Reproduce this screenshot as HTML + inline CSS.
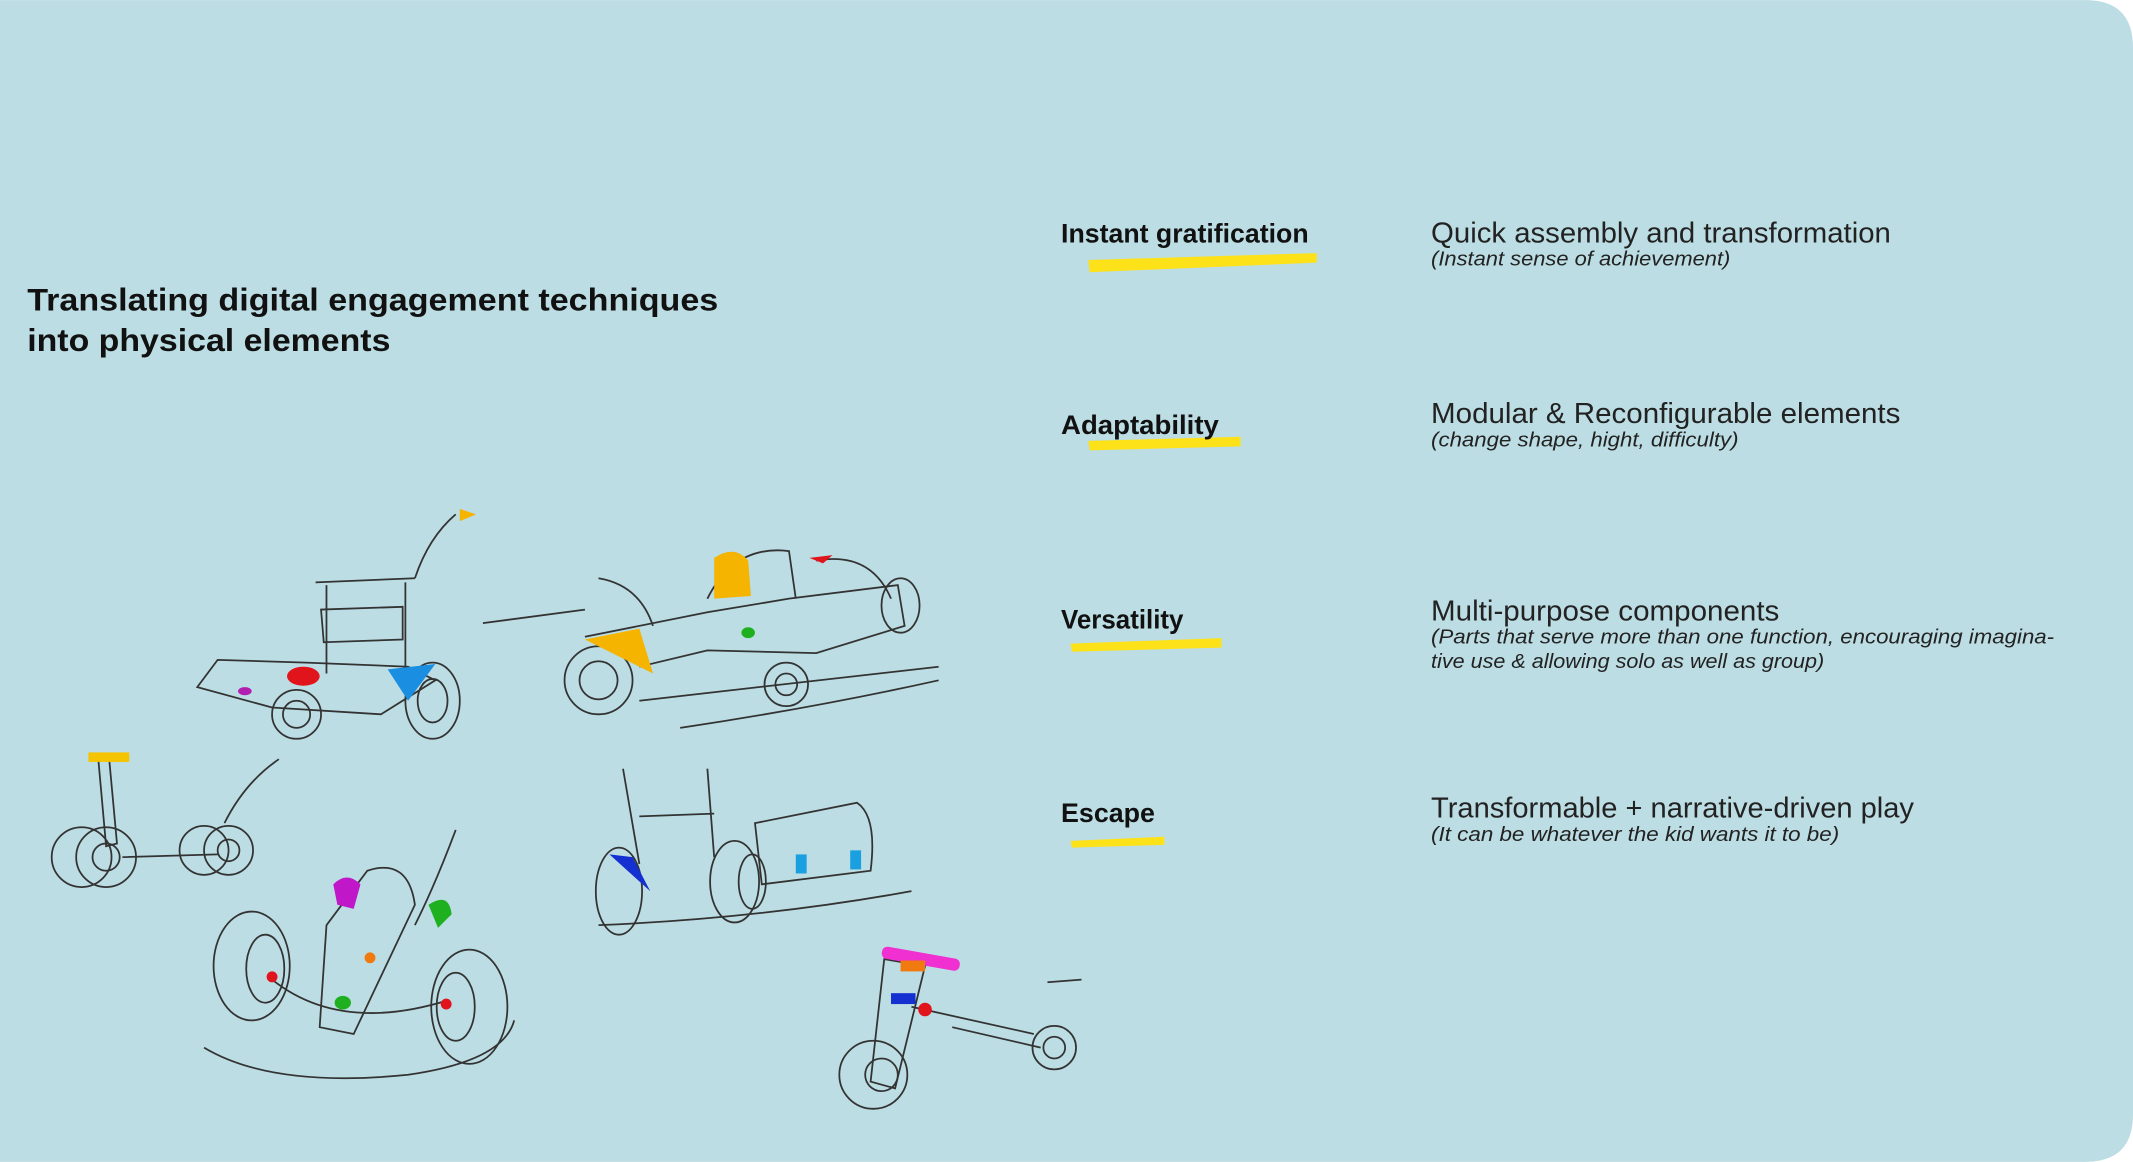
<!DOCTYPE html>
<html><head><meta charset="utf-8"><style>
html,body{margin:0;padding:0;background:#fff;}
svg{display:block;}
text{font-family:"Liberation Sans",sans-serif;}
</style></head><body>
<svg width="2133" height="1162" viewBox="0 0 1568 854" xmlns="http://www.w3.org/2000/svg">
<path d="M0 0 H1533 Q1568 0 1568 35 V819 Q1568 854 1533 854 H0 Z" fill="#bcdde3"/>
<text x="20" y="228" font-size="23" font-weight="bold" fill="#111" textLength="508" lengthAdjust="spacingAndGlyphs">Translating digital engagement techniques</text>
<text x="20" y="258" font-size="23" font-weight="bold" fill="#111" textLength="267" lengthAdjust="spacingAndGlyphs">into physical elements</text>

<g fill="#fde21a">
<path d="M800 191 L968 186 L968 193 L801 200 Z"/>
<path d="M800 324 L912 321 L912 328 L801 331 Z"/>
<path d="M787 473 L898 469 L898 476 L788 479 Z"/>
<path d="M787 618 L856 615 L856 621 L788 623 Z"/>
</g>
<g font-size="20" font-weight="bold" fill="#111">
<text x="780" y="178" textLength="182" lengthAdjust="spacingAndGlyphs">Instant gratification</text>
<text x="780" y="319" textLength="116" lengthAdjust="spacingAndGlyphs">Adaptability</text>
<text x="780" y="462" textLength="90" lengthAdjust="spacingAndGlyphs">Versatility</text>
<text x="780" y="604" textLength="69" lengthAdjust="spacingAndGlyphs">Escape</text>
</g>
<g font-size="21" fill="#222">
<text x="1052" y="178" textLength="338" lengthAdjust="spacingAndGlyphs">Quick assembly and transformation</text>
<text x="1052" y="311" textLength="345" lengthAdjust="spacingAndGlyphs">Modular &amp; Reconfigurable elements</text>
<text x="1052" y="456" textLength="256" lengthAdjust="spacingAndGlyphs">Multi-purpose components</text>
<text x="1052" y="601" textLength="355" lengthAdjust="spacingAndGlyphs">Transformable + narrative-driven play</text>
</g>
<g font-size="15" font-style="italic" fill="#222">
<text x="1052" y="195" textLength="220" lengthAdjust="spacingAndGlyphs">(Instant sense of achievement)</text>
<text x="1052" y="328" textLength="226" lengthAdjust="spacingAndGlyphs">(change shape, hight, difficulty)</text>
<text x="1052" y="473" textLength="458" lengthAdjust="spacingAndGlyphs">(Parts that serve more than one function, encouraging imagina-</text>
<text x="1052" y="491" textLength="289" lengthAdjust="spacingAndGlyphs">tive use &amp; allowing solo as well as group)</text>
<text x="1052" y="618" textLength="300" lengthAdjust="spacingAndGlyphs">(It can be whatever the kid wants it to be)</text>
</g>

<g fill="none" stroke="#333" stroke-width="1.3">
<circle cx="218" cy="525" r="18"/><circle cx="218" cy="525" r="10"/>
<ellipse cx="318" cy="515" rx="20" ry="28"/><ellipse cx="318" cy="515" rx="11" ry="16"/>
<path d="M145 505 L160 485 L225 487 L300 490 L320 500 L280 525 L200 520 Z"/>
<path d="M232 428 L305 425 M240 430 L240 495 M298 428 L298 495 M236 448 L296 446 L296 470 L238 472 Z"/>
<path d="M305 425 Q315 395 335 378"/>
<path d="M355 458 L430 448"/>
<circle cx="440" cy="500" r="25"/><circle cx="440" cy="500" r="14"/>
<circle cx="578" cy="503" r="16"/><circle cx="578" cy="503" r="8"/>
<ellipse cx="662" cy="445" rx="14" ry="20"/>
<path d="M430 468 L520 450 L580 440 L660 430 L665 460 L600 480 L520 478 L470 490"/>
<path d="M520 440 Q540 400 580 405 L585 440"/>
<path d="M440 425 Q470 430 480 460 M600 412 Q640 405 655 440"/>
<path d="M470 515 Q560 505 690 490 M500 535 Q600 520 690 500"/>
<circle cx="60" cy="630" r="22"/><circle cx="78" cy="630" r="22"/><circle cx="78" cy="630" r="10"/>
<circle cx="150" cy="625" r="18"/><circle cx="168" cy="625" r="18"/><circle cx="168" cy="625" r="8"/>
<path d="M72 555 L80 555 L86 620 L78 622 Z M90 630 L160 628 M165 605 Q180 575 205 558"/>
<ellipse cx="185" cy="710" rx="28" ry="40"/><ellipse cx="195" cy="712" rx="14" ry="25"/>
<ellipse cx="345" cy="740" rx="28" ry="42"/><ellipse cx="335" cy="740" rx="14" ry="25"/>
<path d="M200 720 Q250 760 330 735 M240 680 L270 640 Q300 630 305 665 L260 760 L235 755 Z"/>
<path d="M150 770 Q200 800 300 790 Q370 780 378 750 M305 680 Q320 650 335 610"/>
<ellipse cx="455" cy="655" rx="17" ry="32"/><ellipse cx="540" cy="648" rx="18" ry="30"/><ellipse cx="553" cy="648" rx="10" ry="20"/>
<path d="M458 565 L470 635 M520 565 L525 630 M470 600 L525 598"/>
<path d="M555 605 L630 590 Q645 600 640 640 L560 650 Z"/>
<path d="M440 680 Q560 675 670 655"/>
<circle cx="642" cy="790" r="25"/><circle cx="648" cy="790" r="12"/>
<circle cx="775" cy="770" r="16"/><circle cx="775" cy="770" r="8"/>
<path d="M650 705 L680 710 L658 800 L640 795 Z M670 740 L760 760 M700 755 L765 770 M770 722 L795 720"/>
</g>
<g>
<path d="M338 374 L350 378 L338 383 Z" fill="#f4b400"/>
<ellipse cx="223" cy="497" rx="12" ry="7" fill="#e2141b"/>
<path d="M285 492 L320 488 L300 515 Z" fill="#1a8ee0"/>
<ellipse cx="180" cy="508" rx="5" ry="3" fill="#b01fb0"/>
<path d="M525 410 Q540 400 550 412 L552 438 L525 440 Z" fill="#f4b400"/>
<path d="M430 470 L470 462 L480 495 Z" fill="#f4b400"/>
<path d="M595 410 L612 408 L605 414 Z" fill="#e2141b"/>
<ellipse cx="550" cy="465" rx="5" ry="4" fill="#1fb01f"/>
<rect x="65" y="553" width="30" height="7" fill="#f4c400"/>
<path d="M245 650 Q255 640 265 650 L260 668 L248 665 Z" fill="#c018c8"/>
<path d="M315 665 Q330 655 332 672 L322 682 Z" fill="#1fb01f"/>
<ellipse cx="252" cy="737" rx="6" ry="5" fill="#1fb01f"/>
<circle cx="272" cy="704" r="4" fill="#f07a10"/>
<path d="M448 628 L465 630 L478 655 Z" fill="#1530d0"/>
<rect x="585" y="628" width="8" height="14" fill="#1aa0e0"/>
<rect x="625" y="625" width="8" height="14" fill="#1aa0e0"/>
<rect x="648" y="700" width="58" height="9" rx="4" fill="#f030d0" transform="rotate(10 676 704)"/>
<rect x="662" y="706" width="18" height="8" fill="#f07a10"/>
<rect x="655" y="730" width="18" height="8" fill="#1530d0"/>
<circle cx="680" cy="742" r="5" fill="#e2141b"/>
<circle cx="200" cy="718" r="4" fill="#e2141b"/><circle cx="328" cy="738" r="4" fill="#e2141b"/>
</g>
</svg>
</body></html>
